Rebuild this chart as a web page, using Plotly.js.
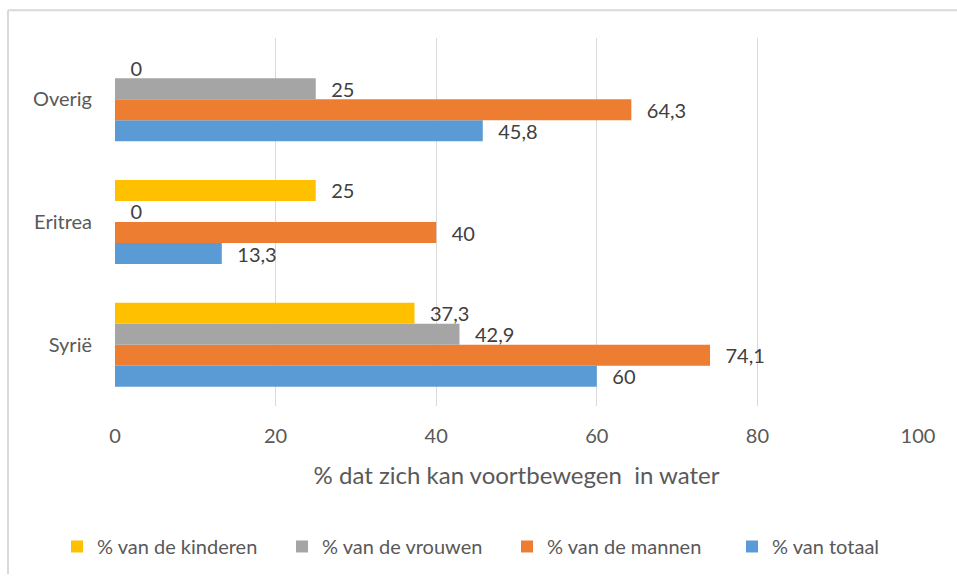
<!DOCTYPE html>
<html>
<head>
<meta charset="utf-8">
<script src="https://cdn.plot.ly/plotly-3.0.1.min.js"></script>
<style>html,body{margin:0;padding:0;background:#fff;}#chart{width:957px;height:577px;}</style>
</head>
<body>
<div id="chart"></div>
<script>
const categories = ["Syrië", "Eritrea", "Overig"];
const seriesNames = ["% van totaal", "% van de mannen", "% van de vrouwen", "% van de kinderen"];
const totaal = [60, 13.3, 45.8];
const mannen = [74.1, 40, 64.3];
const vrouwen = [42.9, 0, 25];
const kinderen = [37.3, 25, 0];
const xTicks = [0, 20, 40, 60, 80, 100];

const colors = ["#5B9BD5", "#ED7D31", "#A5A5A5", "#FFC000"];
const allValues = [totaal, mannen, vrouwen, kinderen];
const fmt = v => String(v).replace('.', ',');
const FONT = "Lato, 'Open Sans', sans-serif";

const traces = allValues.map((vals, i) => ({
  type: 'bar',
  orientation: 'h',
  name: seriesNames[i],
  y: categories,
  x: vals,
  text: vals.map(fmt),
  texttemplate: '\u2002\u2009%{text}',
  textposition: 'outside',
  constraintext: 'none',
  cliponaxis: false,
  textfont: {family: FONT, size: 20, color: '#404040'},
  marker: {color: colors[i]},
  hoverinfo: 'x+name'
}));

const layout = {
  width: 957, height: 577,
  paper_bgcolor: '#fff', plot_bgcolor: '#fff',
  margin: {l: 115, r: 39, t: 38, b: 170},
  barmode: 'group',
  bargap: 0.315,
  bargroupgap: 0,
  showlegend: true,
  legend: {
    orientation: 'h', traceorder: 'reversed',
    x: -0.035, xanchor: 'left', y: -0.378, yanchor: 'middle',
    font: {family: FONT, size: 20, color: '#595959'},
    entrywidth: 180, entrywidthmode: 'pixels',
    itemwidth: 30
  },
  xaxis: {
    range: [0, 100], tickvals: xTicks, showgrid: true, gridcolor: '#D9D9D9', gridwidth: 1.3,
    zeroline: false, showline: false, ticks: '',
    ticklabelstandoff: 16,
    tickfont: {family: FONT, size: 20, color: '#595959'},
    title: {text: '% dat zich kan voortbewegen  in water', font: {family: FONT, size: 24, color: '#595959'}, standoff: 21},
    fixedrange: true
  },
  yaxis: {
    categoryorder: 'array', categoryarray: categories,
    showgrid: false, zeroline: false, showline: false, ticks: '',
    ticklabelstandoff: 22,
    tickfont: {family: FONT, size: 20, color: '#595959'},
    fixedrange: true
  },
  shapes: [
    {type: 'line', xref: 'paper', yref: 'paper', x0: (8-115)/803, x1: (957-115)/803, y0: (408-10)/370, y1: (408-10)/370, line: {color: '#D9D9D9', width: 2}},
    {type: 'line', xref: 'paper', yref: 'paper', x0: (8-115)/803, x1: (8-115)/803, y0: (408-10)/370, y1: (408-577)/370, line: {color: '#D9D9D9', width: 2}}
  ]
};

Plotly.newPlot('chart', traces, layout, {displayModeBar: false, staticPlot: true});
</script>
</body>
</html>
